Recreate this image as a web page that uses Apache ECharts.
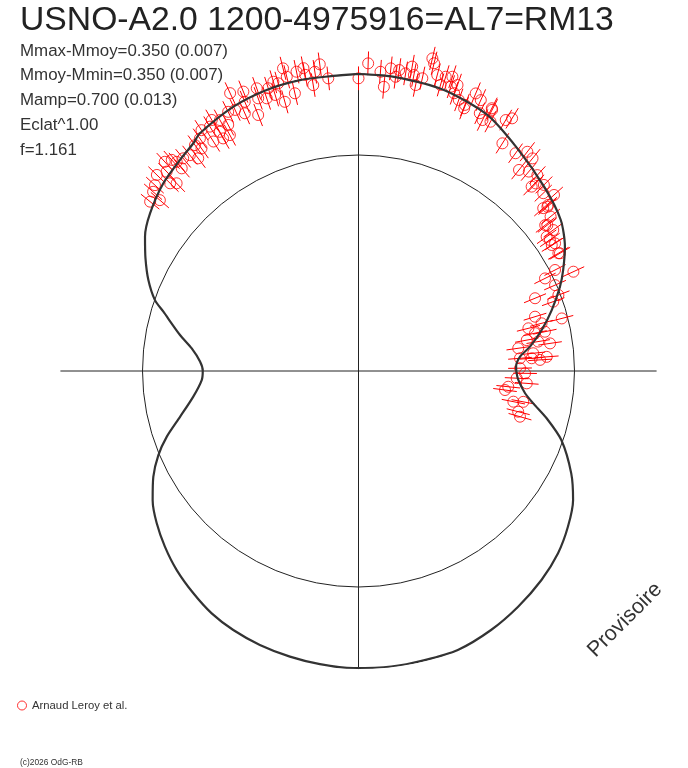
<!DOCTYPE html>
<html><head><meta charset="utf-8">
<script src="https://cdn.jsdelivr.net/npm/echarts@6/dist/echarts.min.js"></script>
<style>html,body{margin:0;padding:0;background:#fff}#c{width:688px;height:768px}</style>
</head><body><div id="c"></div>
<script>
const TITLE = 'USNO-A2.0 1200-4975916=AL7=RM13';
const STATS = ['Mmax-Mmoy=0.350 (0.007)', 'Mmoy-Mmin=0.350 (0.007)', 'Mamp=0.700 (0.013)', 'Eclat^1.00', 'f=1.161'];
const SERIES_NAME = 'Arnaud Leroy et al.';
const COPYRIGHT = '(c)2026 OdG-RB';
const WATERMARK = 'Provisoire';

// relative flux scale (mean = 1), phase in degrees clockwise from top
const FLUX_MAX = 1.38;
const MEAN_FLUX = 1;
const ERR = 0.055;

// model light curve (phase deg, relative flux)
const MODEL_PHASE = [0, 6.9, 16.9, 26.7, 35.5, 45.2, 53.2, 58.9, 63.7, 67.3, 72.5, 77.4, 81.9, 84.9, 88.4, 90.3, 93.2, 97.6, 100.5, 104.1, 108.8, 115.7, 121, 126.6, 132.4, 138.8, 145.9, 152.9, 160.4, 167.1, 173.7, 181, 187.5, 193.5, 199.8, 205.8, 211.2, 216.6, 222.4, 227.8, 233, 237.9, 242.7, 247.2, 251.1, 255.6, 261.2, 266.7, 270.1, 273.4, 277.7, 281.4, 286.9, 289.2, 293.4, 297.9, 302.2, 307.1, 313.9, 319.8, 324, 326.3, 334.7, 341.9, 348.6, 355.1, 360];
const MODEL_FLUX = [1.376, 1.372, 1.360, 1.327, 1.266, 1.211, 1.169, 1.116, 1.057, 1.011, 0.938, 0.869, 0.802, 0.751, 0.730, 0.731, 0.741, 0.778, 0.823, 0.898, 0.992, 1.093, 1.159, 1.208, 1.251, 1.286, 1.318, 1.347, 1.371, 1.373, 1.377, 1.376, 1.369, 1.360, 1.348, 1.332, 1.312, 1.282, 1.248, 1.210, 1.170, 1.125, 1.069, 1.005, 0.938, 0.853, 0.774, 0.727, 0.721, 0.735, 0.779, 0.843, 0.944, 0.998, 1.060, 1.116, 1.168, 1.210, 1.254, 1.280, 1.302, 1.323, 1.354, 1.369, 1.374, 1.371, 1.376];

// observations (phase deg, relative flux)
const OBS_PHASE = [0.0, 1.8, 4.2, 5.1, 6.1, 7.2, 7.7, 9.0, 10.0, 10.6, 11.3, 12.3, 13.3, 13.8, 14.9, 16.0, 16.5, 17.7, 18.0, 19.0, 19.1, 20.3, 21.8, 21.9, 22.9, 24.3, 25.2, 26.3, 26.9, 27.1, 27.9, 30.4, 31.3, 32.3, 35.8, 37.6, 38.6, 39.3, 40.5, 42.4, 43.2, 43.4, 44.9, 46.1, 48.0, 48.6, 48.8, 49.0, 51.2, 52.0, 52.3, 54.1, 54.5, 55.6, 56.9, 57.0, 59.5, 59.7, 62.8, 63.6, 65.2, 66.4, 67.6, 69.2, 70.4, 72.9, 75.4, 75.5, 75.9, 77.9, 78.1, 79.6, 80.7, 81.8, 81.9, 84.2, 85.5, 85.7, 85.8, 86.5, 89.0, 90.8, 92.6, 94.2, 96.0, 97.4, 100.6, 101.2, 104.3, 105.8,
  309.1, 310.7, 311.1, 312.4, 314.2, 314.9, 315.9, 316.1, 317.2, 318.5, 318.9, 319.0, 320.5, 322.0, 323.0, 324.1, 324.8, 325.7, 326.9, 327.7, 328.7, 329.7, 329.8, 329.9, 331.1, 331.4, 332.1, 333.3, 334.7, 335.2, 336.2, 337.1, 337.6, 338.6, 339.8, 340.2, 341.4, 342.3, 343.2, 343.6, 344.4, 344.7, 346.0, 346.3, 347.1, 348.3, 349.7, 349.8, 351.0, 351.7, 352.8, 354.1];
const OBS_FLUX = [1.355, 1.425, 1.389, 1.321, 1.409, 1.373, 1.406, 1.395, 1.431, 1.394, 1.350, 1.387, 1.487, 1.467, 1.418, 1.378, 1.421, 1.430, 1.384, 1.360, 1.401, 1.338, 1.327, 1.311, 1.395, 1.376, 1.319, 1.296, 1.364, 1.358, 1.306, 1.347, 1.369, 1.247, 1.243, 1.281, 1.191, 1.272, 1.214, 1.228, 1.171, 1.195, 1.216, 1.187, 1.218, 1.140, 1.167, 1.159, 1.141, 1.097, 1.105, 1.113, 1.070, 1.074, 1.068, 1.085, 1.074, 1.080, 1.023, 0.964, 1.096, 0.993, 0.884, 0.990, 0.957, 0.855, 0.876, 0.972, 0.811, 0.836, 0.882, 0.792, 0.843, 0.896, 0.747, 0.813, 0.750, 0.874, 0.804, 0.842, 0.748, 0.771, 0.733, 0.781, 0.697, 0.684, 0.776, 0.731, 0.763, 0.777,
  1.243, 1.213, 1.262, 1.276, 1.302, 1.231, 1.210, 1.281, 1.320, 1.305, 1.245, 1.283, 1.276, 1.268, 1.233, 1.291, 1.261, 1.303, 1.331, 1.257, 1.324, 1.346, 1.246, 1.280, 1.327, 1.244, 1.289, 1.343, 1.337, 1.417, 1.304, 1.353, 1.399, 1.273, 1.345, 1.391, 1.332, 1.374, 1.335, 1.396, 1.383, 1.292, 1.444, 1.402, 1.319, 1.415, 1.425, 1.393, 1.340, 1.400, 1.431, 1.362];

const FONT = '"Liberation Sans", Arial, sans-serif';
const chart = echarts.init(document.getElementById('c'), null, {renderer: 'canvas'});

const modelData = MODEL_PHASE.map((p, i) => [MODEL_FLUX[i], p]);
const obsData = OBS_PHASE.map((p, i) => [OBS_FLUX[i], p]);
const errData = OBS_PHASE.map((p, i) => [OBS_FLUX[i], p, ERR]);

const graphics = [
  {type: 'text', x: 20, y: 21, style: {text: TITLE, fontFamily: FONT, fontSize: 33.7, fill: '#222', verticalAlign: 'middle', textVerticalAlign: 'middle'}},
  {type: 'text', x: 20, y: 763, style: {text: COPYRIGHT, fontFamily: FONT, fontSize: 8.4, fill: '#333', verticalAlign: 'middle', textVerticalAlign: 'middle'}},
  {type: 'text', x: 625, y: 620, rotation: Math.PI / 4, style: {text: WATERMARK, fontFamily: FONT, fontSize: 21.5, fill: '#333', align: 'center', textAlign: 'center', verticalAlign: 'middle', textVerticalAlign: 'middle'}}
];
STATS.forEach((s, i) => {
  graphics.push({type: 'text', x: 20, y: 51 + i * 24.8, style: {text: s, fontFamily: FONT, fontSize: 16.9, fill: '#333', verticalAlign: 'middle', textVerticalAlign: 'middle'}});
});

chart.setOption({
  animation: false,
  backgroundColor: '#fff',
  polar: {center: [358.5, 371], radius: FLUX_MAX * 216},
  angleAxis: {
    type: 'value', min: 0, max: 360, interval: 90, startAngle: 90, clockwise: true,
    axisLine: {show: false}, axisTick: {show: false}, axisLabel: {show: false},
    splitLine: {show: true, lineStyle: {color: '#222', width: 1}}
  },
  radiusAxis: {
    type: 'value', min: 0, max: FLUX_MAX, interval: MEAN_FLUX,
    axisLine: {show: false}, axisTick: {show: false}, axisLabel: {show: false},
    splitLine: {show: true, lineStyle: {color: ['rgba(0,0,0,0)', '#222', 'rgba(0,0,0,0)'], width: 1}}
  },
  legend: {
    left: 17, top: 700, padding: 0, itemWidth: 10, itemHeight: 9, icon: 'circle',
    itemStyle: {color: 'rgba(255,255,255,0)', borderColor: '#ff0000', borderWidth: 1},
    data: [SERIES_NAME],
    textStyle: {fontFamily: FONT, fontSize: 11.3, color: '#333'}
  },
  graphic: graphics,
  series: [
    {
      name: SERIES_NAME + ' err', type: 'custom', coordinateSystem: 'polar',
      encode: {radius: 0, angle: 1}, clip: false,
      data: errData, z: 3, silent: true,
      renderItem: function (params, api) {
        const r = api.value(0), a = api.value(1), e = api.value(2);
        const p1 = api.coord([r - e, a]);
        const p2 = api.coord([r + e, a]);
        return {type: 'line', shape: {x1: p1[0], y1: p1[1], x2: p2[0], y2: p2[1]}, style: {stroke: '#ff0000', lineWidth: 1}};
      }
    },
    {
      name: SERIES_NAME, type: 'scatter', coordinateSystem: 'polar', clip: false,
      data: obsData, symbol: 'circle', symbolSize: 11, z: 3,
      itemStyle: {color: 'rgba(255,255,255,0)', borderColor: '#ff0000', borderWidth: 1}
    },
    {
      name: 'model', type: 'line', coordinateSystem: 'polar', clip: false,
      data: modelData, showSymbol: false, smooth: 0.25, z: 4,
      lineStyle: {color: '#333', width: 2.2}
    }
  ]
});
</script></body></html>
